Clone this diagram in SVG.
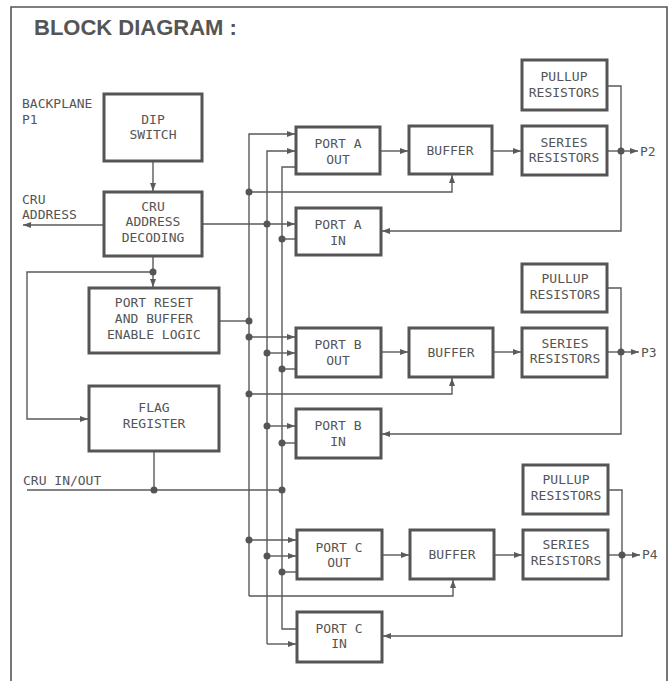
<svg xmlns="http://www.w3.org/2000/svg" width="670" height="681" viewBox="0 0 670 681">
<defs>
<marker id="arr" viewBox="0 0 8 6" refX="8" refY="3" markerWidth="8" markerHeight="6" markerUnits="userSpaceOnUse" orient="auto">
<path d="M0,0 L8,3 L0,6 z" fill="#5a5a5a"/>
</marker>
</defs>
<style>
.box{fill:#fff;stroke:#555;stroke-width:3}
.t{font-family:"DejaVu Sans Mono","Liberation Mono",monospace;font-size:13px;fill:#555;text-anchor:middle}
.l{font-family:"DejaVu Sans Mono","Liberation Mono",monospace;font-size:13px;fill:#555}
.w{fill:none;stroke:#5a5a5a;stroke-width:1.4}
.a{marker-end:url(#arr)}
.d{fill:#555}
</style>
<rect x="0" y="0" width="670" height="681" fill="#fff"/>
<path d="M11,690 V7 H667 V690" fill="none" stroke="#555" stroke-width="1.6"/>
<text x="34" y="35" font-family="Liberation Sans, Arial, sans-serif" font-weight="bold" font-size="22" fill="#555">BLOCK DIAGRAM<tspan dx="6">:</tspan></text>

<g id="labels">
<text class="l" x="22" y="108">BACKPLANE</text>
<text class="l" x="22" y="124">P1</text>
<text class="l" x="22" y="204">CRU</text>
<text class="l" x="22" y="219">ADDRESS</text>
<text class="l" x="23" y="485">CRU IN/OUT</text>
<text class="l" x="640" y="156">P2</text>
<text class="l" x="641" y="357">P3</text>
<text class="l" x="642" y="559">P4</text>
</g>

<g id="connectors">
<path class="w a" d="M153,161 V191"/>
<path class="w a" d="M104,225 H23"/>
<path class="w a" d="M202,224 H295"/>
<path class="w a" d="M153,256 V287"/>
<path class="w a" d="M153,272 H27 V419 H88"/>
<path class="w" d="M219,321 H249"/>
<path class="w" d="M154,451 V490"/>
<path class="w" d="M27,490 H282"/>
<path class="w a" d="M249,596 V134 H295"/>
<path class="w a" d="M249,596 H453 V580"/>
<path class="w a" d="M267,644 V151 H295"/>
<path class="w a" d="M267,644 H296"/>
<path class="w" d="M296,167 H282 V629 H297"/>
<path class="w a" d="M249,192 H452 V175"/>
<path class="w" d="M282,239 H296"/>
<path class="w a" d="M249,337 H295"/>
<path class="w a" d="M267,353 H295"/>
<path class="w" d="M282,369 H296"/>
<path class="w a" d="M249,394 H452 V378"/>
<path class="w a" d="M267,426 H295"/>
<path class="w" d="M282,443 H296"/>
<path class="w a" d="M249,540 H296"/>
<path class="w a" d="M267,556 H296"/>
<path class="w" d="M282,572 H297"/>
<path class="w a" d="M380,151 H408"/>
<path class="w a" d="M492,151 H521"/>
<path class="w a" d="M607,151 H638"/>
<path class="w a" d="M607,86 H621 V231 H382"/>
<path class="w a" d="M381,352 H408"/>
<path class="w a" d="M493,352 H521"/>
<path class="w a" d="M607,352 H639"/>
<path class="w a" d="M607,288 H621 V434 H382"/>
<path class="w a" d="M382,555 H409"/>
<path class="w a" d="M494,555 H522"/>
<path class="w a" d="M608,555 H640"/>
<path class="w a" d="M608,490 H622 V636 H383"/>
<circle class="d" cx="267" cy="224" r="3.5"/>
<circle class="d" cx="153" cy="272" r="3.5"/>
<circle class="d" cx="249" cy="321" r="3.5"/>
<circle class="d" cx="154" cy="490" r="3.5"/>
<circle class="d" cx="282" cy="490" r="3.5"/>
<circle class="d" cx="249" cy="192" r="3.5"/>
<circle class="d" cx="282" cy="239" r="3.5"/>
<circle class="d" cx="249" cy="337" r="3.5"/>
<circle class="d" cx="267" cy="353" r="3.5"/>
<circle class="d" cx="282" cy="369" r="3.5"/>
<circle class="d" cx="249" cy="394" r="3.5"/>
<circle class="d" cx="267" cy="426" r="3.5"/>
<circle class="d" cx="282" cy="443" r="3.5"/>
<circle class="d" cx="249" cy="540" r="3.5"/>
<circle class="d" cx="267" cy="556" r="3.5"/>
<circle class="d" cx="282" cy="572" r="3.5"/>
<circle class="d" cx="621" cy="151" r="3.5"/>
<circle class="d" cx="621" cy="352" r="3.5"/>
<circle class="d" cx="622" cy="555" r="3.5"/>
</g>

<g id="dip"><rect class="box" x="104" y="94" width="98" height="67"/><text class="t" x="153" y="124">DIP</text><text class="t" x="153" y="139">SWITCH</text></g>
<g id="cru"><rect class="box" x="104" y="192" width="98" height="64"/><text class="t" x="153" y="211">CRU</text><text class="t" x="153" y="226">ADDRESS</text><text class="t" x="153" y="242">DECODING</text></g>
<g id="reset"><rect class="box" x="89" y="288" width="130" height="65"/><text class="t" x="154" y="307">PORT RESET</text><text class="t" x="154" y="323">AND BUFFER</text><text class="t" x="154" y="339">ENABLE LOGIC</text></g>
<g id="flag"><rect class="box" x="89" y="386" width="130" height="65"/><text class="t" x="154" y="412">FLAG</text><text class="t" x="154" y="428">REGISTER</text></g>

<g id="portAout"><rect class="box" x="296" y="127" width="84" height="47"/><text class="t" x="338" y="148">PORT A</text><text class="t" x="338" y="164">OUT</text></g>
<g id="portAin"><rect class="box" x="296" y="208" width="85" height="47"/><text class="t" x="338" y="229">PORT A</text><text class="t" x="338" y="245">IN</text></g>
<g id="bufA"><rect class="box" x="409" y="126" width="83" height="48"/><text class="t" x="450" y="155">BUFFER</text></g>
<g id="serA"><rect class="box" x="522" y="126" width="85" height="49"/><text class="t" x="564" y="147">SERIES</text><text class="t" x="564" y="162">RESISTORS</text></g>
<g id="pullA"><rect class="box" x="522" y="60" width="85" height="50"/><text class="t" x="564" y="81">PULLUP</text><text class="t" x="564" y="97">RESISTORS</text></g>

<g id="portBout"><rect class="box" x="296" y="328" width="85" height="49"/><text class="t" x="338" y="349">PORT B</text><text class="t" x="338" y="365">OUT</text></g>
<g id="portBin"><rect class="box" x="296" y="409" width="85" height="49"/><text class="t" x="338" y="430">PORT B</text><text class="t" x="338" y="446">IN</text></g>
<g id="bufB"><rect class="box" x="409" y="328" width="84" height="49"/><text class="t" x="451" y="357">BUFFER</text></g>
<g id="serB"><rect class="box" x="522" y="328" width="85" height="49"/><text class="t" x="565" y="348">SERIES</text><text class="t" x="565" y="363">RESISTORS</text></g>
<g id="pullB"><rect class="box" x="522" y="264" width="85" height="48"/><text class="t" x="565" y="283">PULLUP</text><text class="t" x="565" y="299">RESISTORS</text></g>

<g id="portCout"><rect class="box" x="297" y="530" width="85" height="49"/><text class="t" x="339" y="552">PORT C</text><text class="t" x="339" y="567">OUT</text></g>
<g id="portCin"><rect class="box" x="297" y="612" width="85" height="50"/><text class="t" x="339" y="633">PORT C</text><text class="t" x="339" y="648">IN</text></g>
<g id="bufC"><rect class="box" x="410" y="530" width="84" height="49"/><text class="t" x="452" y="559">BUFFER</text></g>
<g id="serC"><rect class="box" x="523" y="530" width="85" height="49"/><text class="t" x="566" y="549">SERIES</text><text class="t" x="566" y="565">RESISTORS</text></g>
<g id="pullC"><rect class="box" x="523" y="465" width="85" height="49"/><text class="t" x="566" y="484">PULLUP</text><text class="t" x="566" y="500">RESISTORS</text></g>
</svg>
